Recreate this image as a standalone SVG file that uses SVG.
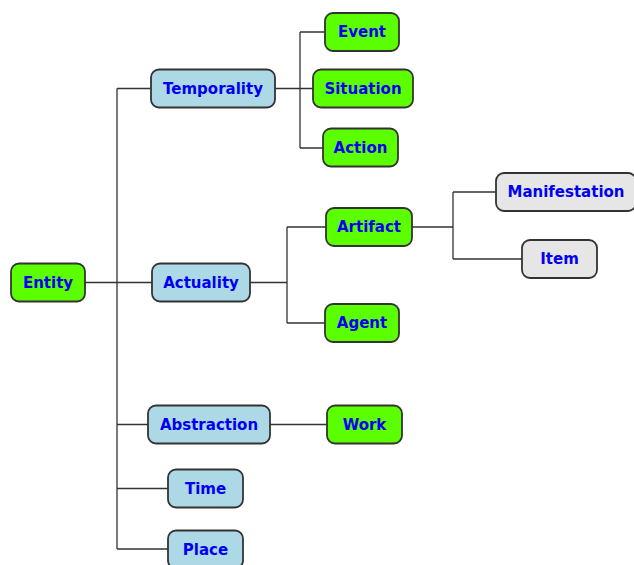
<svg xmlns="http://www.w3.org/2000/svg" width="634" height="565" viewBox="0 0 634 565">
<style>
.n rect{stroke:#333;stroke-width:1.8}
.g rect{fill:#5cff00}
.b rect{fill:#add8e6}
.y rect{fill:#e6e6e6}
.n text{font-family:"DejaVu Sans",sans-serif;font-weight:bold;font-size:15px;fill:#0000f0;text-anchor:middle;dominant-baseline:central}
#edges path{fill:none;stroke:#333;stroke-width:1.3}
</style>
<rect width="634" height="565" fill="#fff"/>
<g id="edges">
<path d="M85 282.5H117M117 88.5V549M117 88.5H151M117 282.5H152M117 424.5H148M117 488.5H168M117 549H168"/>
<path d="M275 88.5H313M300 32V148M300 32H325M300 148H323"/>
<path d="M250 282.5H287M287 227V323M287 227H326M287 323H325"/>
<path d="M412 227H453M453 192V259M453 192H496M453 259H522"/>
<path d="M270 424.5H327"/>
</g>
<g id="entity" class="n g"><rect x="11" y="263.5" width="74" height="38" rx="8"/><text x="48" y="282.5">Entity</text></g>
<g id="temporality" class="n b"><rect x="151" y="69.5" width="124" height="38" rx="8"/><text x="213" y="88.5">Temporality</text></g>
<g id="event" class="n g"><rect x="325" y="13" width="74" height="38" rx="8"/><text x="362" y="32">Event</text></g>
<g id="situation" class="n g"><rect x="313" y="69.5" width="100" height="38" rx="8"/><text x="363" y="88.5">Situation</text></g>
<g id="action" class="n g"><rect x="323" y="128.5" width="75" height="38" rx="8"/><text x="360.5" y="147.5">Action</text></g>
<g id="actuality" class="n b"><rect x="152" y="263.5" width="98" height="38" rx="8"/><text x="201" y="282.5">Actuality</text></g>
<g id="artifact" class="n g"><rect x="326" y="208" width="86" height="38" rx="8"/><text x="369" y="227">Artifact</text></g>
<g id="agent" class="n g"><rect x="325" y="304" width="74" height="38" rx="8"/><text x="362" y="323">Agent</text></g>
<g id="manifestation" class="n y"><rect x="496" y="173" width="140" height="38" rx="8"/><text x="566" y="192">Manifestation</text></g>
<g id="item" class="n y"><rect x="522" y="240" width="75" height="38" rx="8"/><text x="559.5" y="259">Item</text></g>
<g id="abstraction" class="n b"><rect x="148" y="405.5" width="122" height="38" rx="8"/><text x="209" y="424.5">Abstraction</text></g>
<g id="work" class="n g"><rect x="327" y="405.5" width="75" height="38" rx="8"/><text x="364.5" y="424.5">Work</text></g>
<g id="time" class="n b"><rect x="168" y="469.5" width="75" height="38" rx="8"/><text x="205.5" y="488.5">Time</text></g>
<g id="place" class="n b"><rect x="168" y="530.5" width="75" height="38" rx="8"/><text x="205.5" y="549.5">Place</text></g>
</svg>
